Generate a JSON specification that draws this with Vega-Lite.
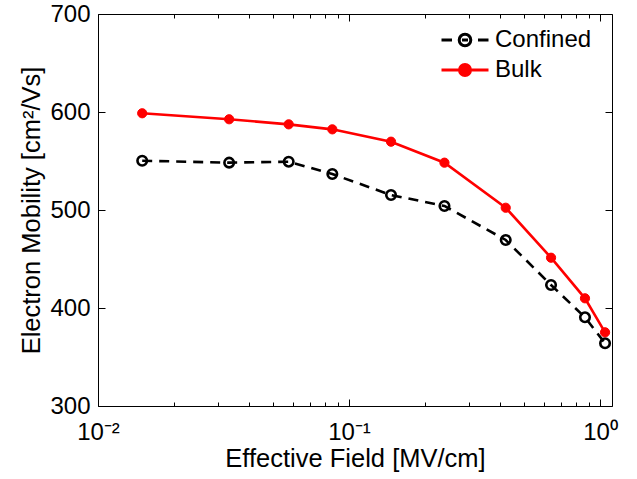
{
  "$schema": "https://vega.github.io/schema/vega-lite/v6.json",
  "width": 514,
  "height": 392,
  "autosize": {"type": "none"},
  "padding": {"left": 98, "top": 14, "right": 25, "bottom": 73},
  "background": "white",
  "config": {
    "view": {"stroke": null},
    "font": "Liberation Sans",
    "axis": {
      "domainColor": "black",
      "domainWidth": 1,
      "tickColor": "black",
      "tickWidth": 1,
      "labelFont": "Liberation Sans",
      "labelFontSize": 24,
      "labelColor": "black",
      "titleFont": "Liberation Sans",
      "titleFontSize": 25.5,
      "titleFontWeight": "normal",
      "titleColor": "black",
      "grid": false
    }
  },
  "data": {
    "values": [
      {"field": 0.015, "mobility": 550.3, "series": "Confined"},
      {"field": 0.0333, "mobility": 548.3, "series": "Confined"},
      {"field": 0.0575, "mobility": 549.3, "series": "Confined"},
      {"field": 0.0858, "mobility": 536.7, "series": "Confined"},
      {"field": 0.147, "mobility": 515.3, "series": "Confined"},
      {"field": 0.24, "mobility": 504.1, "series": "Confined"},
      {"field": 0.421, "mobility": 469.4, "series": "Confined"},
      {"field": 0.638, "mobility": 423.5, "series": "Confined"},
      {"field": 0.871, "mobility": 390.5, "series": "Confined"},
      {"field": 1.047, "mobility": 364.0, "series": "Confined"},
      {"field": 0.015, "mobility": 598.7, "series": "Bulk"},
      {"field": 0.0333, "mobility": 592.6, "series": "Bulk"},
      {"field": 0.0575, "mobility": 587.4, "series": "Bulk"},
      {"field": 0.0858, "mobility": 582.3, "series": "Bulk"},
      {"field": 0.147, "mobility": 569.7, "series": "Bulk"},
      {"field": 0.24, "mobility": 548.3, "series": "Bulk"},
      {"field": 0.421, "mobility": 502.3, "series": "Bulk"},
      {"field": 0.638, "mobility": 451.3, "series": "Bulk"},
      {"field": 0.871, "mobility": 409.9, "series": "Bulk"},
      {"field": 1.047, "mobility": 375.2, "series": "Bulk"}
    ]
  },
  "resolve": {"axis": {"x": "independent", "y": "independent"}},
  "layer": [
    {
      "transform": [{"filter": "datum.series === 'Confined'"}],
      "mark": {"type": "line", "strokeDash": [10, 7], "strokeWidth": 2.6},
      "encoding": {
        "x": {
          "field": "field", "type": "quantitative",
          "scale": {"type": "log", "domain": [0.01, 1.116], "nice": false},
          "axis": {
            "orient": "bottom",
            "values": [0.01, 0.02, 0.03, 0.04, 0.05, 0.06, 0.07, 0.08, 0.09, 0.1, 0.2, 0.3, 0.4, 0.5, 0.6, 0.7, 0.8, 0.9, 1],
            "labelExpr": "datum.value == 0.01 ? '10⁻²' : datum.value == 0.1 ? '10⁻¹' : datum.value == 1 ? '10⁰' : ''",
            "tickSize": {"condition": {"test": "datum.value == 0.01 || datum.value == 0.1 || datum.value == 1", "value": -7}, "value": -4},
            "labelPadding": 21,
            "labelFlush": false,
            "labelOverlap": false,
            "title": "Effective Field [MV/cm]",
            "titlePadding": -1
          }
        },
        "y": {
          "field": "mobility", "type": "quantitative",
          "scale": {"domain": [300, 700], "nice": false, "zero": false},
          "axis": {
            "orient": "left",
            "values": [300, 400, 500, 600, 700],
            "tickSize": -7,
            "labelPadding": 15,
            "title": "Electron Mobility [cm²/Vs]",
            "titlePadding": 5
          }
        },
        "color": {
          "field": "series", "type": "nominal",
          "scale": {"domain": ["Confined", "Bulk"], "range": ["black", "red"]},
          "legend": {
            "orient": "none",
            "legendX": 355,
            "legendY": 14,
            "title": null,
            "labelFont": "Liberation Sans",
            "labelFontSize": 24,
            "labelColor": "black",
            "symbolSize": 400,
            "symbolStrokeWidth": 3,
            "labelOffset": 18,
            "rowPadding": 6,
            "padding": 0,
            "encode": {
              "symbols": {
                "update": {
                  "shape": {"signal": "datum.value === 'Confined' ? 'M-2.35,0H-1.3M1.3,0H2.35M0.58,0A0.58,0.58,0,1,1,-0.58,0A0.58,0.58,0,1,1,0.58,0M-0.3,0H0.3' : 'M-2.35,0H2.35M0.55,0A0.55,0.55,0,1,1,-0.55,0A0.55,0.55,0,1,1,0.55,0'"},
                  "fill": {"signal": "datum.value === 'Bulk' ? 'red' : 'transparent'"},
                  "strokeDash": {"value": []}
                }
              }
            }
          }
        }
      }
    },
    {
      "transform": [{"filter": "datum.series === 'Confined'"}],
      "mark": {"type": "point", "shape": "circle", "filled": false, "stroke": "black", "strokeWidth": 2.6, "size": 90, "opacity": 1},
      "encoding": {
        "x": {
          "field": "field", "type": "quantitative",
          "scale": {"type": "log", "domain": [0.01, 1.116], "nice": false},
          "axis": {
            "orient": "top",
            "values": [0.01, 0.02, 0.03, 0.04, 0.05, 0.06, 0.07, 0.08, 0.09, 0.1, 0.2, 0.3, 0.4, 0.5, 0.6, 0.7, 0.8, 0.9, 1],
            "labels": false,
            "tickSize": {"condition": {"test": "datum.value == 0.01 || datum.value == 0.1 || datum.value == 1", "value": -7}, "value": -4},
            "title": null
          }
        },
        "y": {
          "field": "mobility", "type": "quantitative",
          "scale": {"domain": [300, 700], "nice": false, "zero": false},
          "axis": {
            "orient": "right",
            "values": [300, 400, 500, 600, 700],
            "labels": false,
            "tickSize": -7,
            "title": null
          }
        }
      }
    },
    {
      "transform": [{"filter": "datum.series === 'Bulk'"}],
      "mark": {"type": "line", "strokeWidth": 2.6},
      "encoding": {
        "x": {"field": "field", "type": "quantitative", "scale": {"type": "log", "domain": [0.01, 1.116], "nice": false}, "axis": null},
        "y": {"field": "mobility", "type": "quantitative", "scale": {"domain": [300, 700], "nice": false, "zero": false}, "axis": null},
        "color": {"field": "series", "type": "nominal", "scale": {"domain": ["Confined", "Bulk"], "range": ["black", "red"]}}
      }
    },
    {
      "transform": [{"filter": "datum.series === 'Bulk'"}],
      "mark": {"type": "point", "shape": "circle", "filled": true, "fill": "red", "stroke": "red", "strokeWidth": 1, "size": 85, "opacity": 1},
      "encoding": {
        "x": {"field": "field", "type": "quantitative", "scale": {"type": "log", "domain": [0.01, 1.116], "nice": false}, "axis": null},
        "y": {"field": "mobility", "type": "quantitative", "scale": {"domain": [300, 700], "nice": false, "zero": false}, "axis": null}
      }
    }
  ]
}
